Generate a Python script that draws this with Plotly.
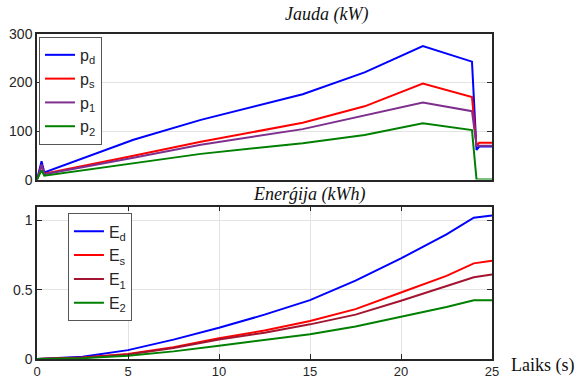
import plotly.graph_objects as go

# Power data (kW)
t_p = [0, 0.12, 0.25, 0.4, 5.3, 9.0, 14.6, 18.0, 21.2, 23.9, 24.15, 24.3, 25]
p_d = [0, 18, 38, 15, 82, 123, 176, 221, 275, 243, 61, 68, 68]
p_s = [0, 12, 30, 12, 49, 78, 117, 151, 198, 170, 70, 76, 76]
p_1 = [0, 12, 31, 11, 45, 72, 104, 133, 159, 141, 70, 70, 70]
p_2 = [0, 8, 19, 8, 34, 53, 75, 92, 116, 102, 0, 0, 0]

# Energy data (kWh)
t_e = [0, 2.5, 5, 7.5, 10, 12.5, 15, 17.5, 20, 22.5, 24, 25]
E_d = [0, 0.017, 0.064, 0.14, 0.225, 0.32, 0.425, 0.565, 0.726, 0.9, 1.02, 1.036]
E_s = [0, 0.01, 0.036, 0.085, 0.15, 0.205, 0.274, 0.36, 0.48, 0.6, 0.69, 0.71]
E_1 = [0, 0.009, 0.033, 0.08, 0.14, 0.19, 0.25, 0.32, 0.42, 0.525, 0.59, 0.61]
E_2 = [0, 0.006, 0.024, 0.055, 0.095, 0.135, 0.179, 0.235, 0.305, 0.375, 0.424, 0.424]

x_ticks = [0, 5, 10, 15, 20, 25]
p_ticks = [0, 100, 200, 300]
e_ticks = [0, 0.5, 1]
e_ticktext = ["0", "0.5", "1"]

BLUE = "#0000FF"
RED = "#FF0000"
PURPLE = "#7E2F8E"
GREEN = "#008000"
DARKRED = "#A2142F"

fig = go.Figure()
lw = 2
for y, name, c in [(p_d, "p<sub>d</sub>", BLUE), (p_s, "p<sub>s</sub>", RED),
                   (p_1, "p<sub>1</sub>", PURPLE), (p_2, "p<sub>2</sub>", GREEN)]:
    fig.add_trace(go.Scatter(x=t_p, y=y, name=name, mode="lines",
                             line=dict(color=c, width=lw), xaxis="x", yaxis="y",
                             legend="legend"))
for y, name, c in [(E_d, "E<sub>d</sub>", BLUE), (E_s, "E<sub>s</sub>", RED),
                   (E_1, "E<sub>1</sub>", DARKRED), (E_2, "E<sub>2</sub>", GREEN)]:
    fig.add_trace(go.Scatter(x=t_e, y=y, name=name, mode="lines",
                             line=dict(color=c, width=lw), xaxis="x2", yaxis="y2",
                             legend="legend2"))

tickfont = dict(family="Liberation Sans, Arial, sans-serif", size=14, color="#262626")
xtickfont = dict(family="Liberation Sans, Arial, sans-serif", size=13, color="#262626")
axcol = "#262626"
grid = "#e3e3e3"
legfont = dict(family="Liberation Sans, Arial, sans-serif", size=16, color="#262626")
serif = "Liberation Serif, Times New Roman, serif"

fig.update_layout(
    width=578, height=378, autosize=False,
    margin=dict(l=37, r=86, t=34, b=19),
    paper_bgcolor="white", plot_bgcolor="white",
    xaxis=dict(domain=[0, 1], anchor="y", range=[0, 25], showticklabels=False,
               ticks="", showgrid=False, zeroline=False, showline=True, mirror=True,
               linecolor=axcol, linewidth=2, automargin=False),
    yaxis=dict(domain=[0.552, 1], anchor="x", range=[0, 300], tickvals=p_ticks,
               ticks="inside", ticklen=5, tickcolor=axcol, showgrid=True, gridcolor=grid,
               zeroline=False, showline=True, mirror="ticks", linecolor=axcol, linewidth=1.5,
               tickfont=tickfont, automargin=False),
    xaxis2=dict(domain=[0, 1], anchor="y2", range=[0, 25], tickvals=x_ticks,
                ticks="inside", ticklen=5, tickcolor=axcol, showgrid=True, gridcolor=grid,
                zeroline=False, showline=True, mirror="ticks", linecolor=axcol, linewidth=1.5,
                tickfont=xtickfont, automargin=False),
    yaxis2=dict(domain=[0, 0.469], anchor="x2", range=[0, 1.1], tickvals=e_ticks,
                ticktext=e_ticktext, ticks="inside", ticklen=5, tickcolor=axcol,
                showgrid=True, gridcolor=grid, zeroline=False, showline=True,
                mirror="ticks", linecolor=axcol, linewidth=1.5, tickfont=tickfont,
                automargin=False),
    legend=dict(x=0.0044, y=0.991, xanchor="left", yanchor="top", bgcolor="white",
                bordercolor="#555555", borderwidth=1, font=legfont),
    legend2=dict(x=0.068, y=0.448, xanchor="left", yanchor="top", bgcolor="white",
                 bordercolor="#555555", borderwidth=1, font=legfont),
    annotations=[
        dict(text="<i>Jauda (kW)</i>", xref="paper", yref="paper", x=0.637, y=1.061,
             showarrow=False, xanchor="center", yanchor="middle",
             font=dict(family=serif, size=18, color="#111")),
        dict(text="<i>Enerǵija (kWh)</i>", xref="paper", yref="paper", x=0.598, y=0.506,
             showarrow=False, xanchor="center", yanchor="middle",
             font=dict(family=serif, size=18, color="#111")),
        dict(text="Laiks (s)", xref="paper", yref="paper", x=1.11, y=-0.021,
             showarrow=False, xanchor="center", yanchor="middle",
             font=dict(family=serif, size=18, color="#111")),
    ],
)

fig.write_html("out.html", config={"displayModeBar": False},
               post_script="document.body.style.margin='0';document.body.style.overflow='hidden';")
